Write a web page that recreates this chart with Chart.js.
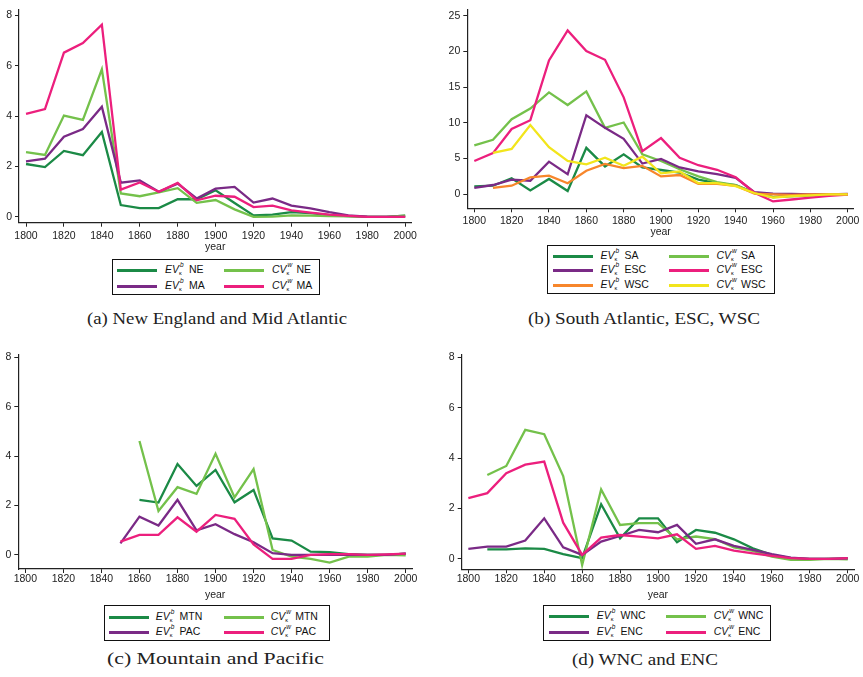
<!DOCTYPE html>
<html>
<head>
<meta charset="utf-8">
<script src="https://cdn.jsdelivr.net/npm/chart.js@4"></script>
<style>
  html, body { margin: 0; padding: 0; background: #fff; }
  #page { position: relative; width: 863px; height: 677px; overflow: hidden; background: #fff; }
  canvas { position: absolute; }
  .legend { position: absolute; border: 1.3px solid #111; background: #fff; box-sizing: border-box; }
  .item { position: absolute; height: 12px; font-family: "Liberation Sans", Arial, sans-serif; font-size: 10.5px; color: #111; white-space: nowrap; }
  .swatch { position: absolute; top: 5px; width: 40px; height: 2.5px; }
  .lbl { position: absolute; top: -1px; line-height: 12px; }
  .lbl i { font-style: italic; }
  .ss { display: inline-block; position: relative; width: 7px; height: 8px; }
  .ss .sp { position: absolute; left: 1px; top: -4px; font-size: 6.5px; font-style: italic; line-height: 8px; }
  .ss .sb { position: absolute; left: 0px; top: 5px; font-size: 5.5px; line-height: 6px; }
  .caption { position: absolute; font-family: "Liberation Serif", "DejaVu Serif", serif; font-size: 16px; color: #222; white-space: nowrap; transform-origin: 0 50%; line-height: 18px; }
</style>
</head>
<body>
<div id="page"></div>
<script>
// Decades on the x axis
const years = [1800,1810,1820,1830,1840,1850,1860,1870,1880,1890,1900,1910,1920,1930,1940,1950,1960,1970,1980,1990,2000];
const xTicks = [1800,1820,1840,1860,1880,1900,1920,1940,1960,1980,2000];

// (a) New England and Mid Atlantic
const evNE = [2.10,1.98,2.62,2.45,3.37,0.47,0.35,0.35,0.70,0.70,1.06,0.55,0.06,0.09,0.19,0.15,0.07,0.03,0.00,0.00,0.05];
const cvNE = [2.57,2.46,4.02,3.85,5.86,0.93,0.82,0.97,1.14,0.56,0.67,0.30,0.00,0.01,0.06,0.05,0.03,0.02,0.00,0.00,0.05];
const evMA = [2.20,2.31,3.18,3.49,4.37,1.36,1.45,1.00,1.32,0.73,1.12,1.19,0.57,0.73,0.45,0.34,0.19,0.06,0.01,0.00,0.00];
const cvMA = [4.09,4.28,6.52,6.90,7.63,1.08,1.37,1.00,1.35,0.66,0.84,0.80,0.39,0.45,0.26,0.17,0.09,0.04,0.00,0.00,0.00];
const yTicksA = [0,2,4,6,8];

// (b) South Atlantic, ESC, WSC
const evSA  = [1.10,1.20,2.24,0.55,2.15,0.46,6.50,3.90,5.60,3.75,3.40,3.05,2.05,1.55,1.30,0.20,-0.40,-0.20,-0.10,0.00,0.00];
const cvSA  = [6.85,7.63,10.50,12.00,14.26,12.50,14.40,9.30,10.05,5.60,4.66,3.50,2.50,1.70,1.30,0.20,-0.40,-0.30,-0.20,0.00,0.00];
const evESC = [0.90,1.30,2.05,1.90,4.57,2.80,11.06,9.30,7.77,4.30,4.94,3.75,3.20,2.83,2.30,0.30,0.10,0.05,0.00,0.00,0.05];
const cvESC = [4.66,5.76,9.14,10.37,18.74,22.94,20.06,18.83,13.57,6.03,7.86,5.12,4.07,3.43,2.38,0.23,-1.00,-0.73,-0.46,-0.23,-0.05];
const evWSC = [null,0.90,1.20,2.38,2.60,1.55,3.30,4.25,3.66,3.98,2.50,2.70,1.46,1.46,1.19,0.10,0.00,-0.10,0.00,0.00,0.00];
const cvWSC = [null,5.80,6.35,9.70,6.58,4.66,4.20,5.12,3.98,5.26,2.93,3.20,1.55,1.55,1.14,0.18,-0.46,-0.27,-0.14,0.00,0.00];
const yTicksB = [0,5,10,15,20,25];

// (c) Mountain and Pacific
const evMTN = [null,null,null,null,null,null,2.23,2.12,3.68,2.79,3.44,2.13,2.63,0.67,0.58,0.13,0.11,0.03,0.00,0.00,0.05];
const cvMTN = [null,null,null,null,null,null,4.61,1.78,2.74,2.47,4.09,2.33,3.47,0.20,-0.07,-0.16,-0.31,-0.07,-0.07,0.00,-0.02];
const evPAC = [null,null,null,null,null,0.47,1.55,1.19,2.23,0.99,1.24,0.84,0.51,0.07,0.00,0.00,0.00,0.00,0.00,0.00,0.05];
const cvPAC = [null,null,null,null,null,0.54,0.81,0.81,1.52,0.94,1.62,1.46,0.42,-0.16,-0.16,0.00,0.03,0.03,0.00,0.02,0.05];
const yTicksC = [0,2,4,6,8];

// (d) WNC and ENC
const evWNC = [null,0.38,0.38,0.42,0.40,0.19,0.03,2.17,0.82,1.61,1.61,0.66,1.15,1.04,0.78,0.42,0.16,0.03,0.00,0.00,0.02];
const cvWNC = [null,3.33,3.69,5.12,4.95,3.29,-0.24,2.76,1.35,1.42,1.42,0.78,0.89,0.79,0.46,0.32,0.09,-0.04,-0.04,0.00,-0.02];
const evENC = [0.40,0.49,0.49,0.73,1.61,0.46,0.16,0.69,0.91,1.15,1.06,1.35,0.60,0.78,0.52,0.36,0.19,0.05,0.00,0.00,0.02];
const cvENC = [2.41,2.61,3.40,3.74,3.86,1.44,0.16,0.85,0.95,0.89,0.82,0.98,0.40,0.52,0.33,0.22,0.12,0.03,0.00,0.00,0.03];
const yTicksD = [0,2,4,6,8];

// Series colours
const C = {
  dkgreen: '#1b8a46',
  ltgreen: '#74c14b',
  purple:  '#7a2a86',
  pink:    '#ec1f7d',
  orange:  '#f7862b',
  yellow:  '#f2e51c'
};

const page = document.getElementById('page');
const tickFont = { family: '"Liberation Sans", Arial, sans-serif', size: 10.5, lineHeight: 1.2 };

function series(kind, region, values, color) {
  return { kind, region, values, color };
}

function makePanel(p) {
  const canvas = document.createElement('canvas');
  canvas.width = p.w; canvas.height = p.h;
  canvas.style.left = p.left + 'px'; canvas.style.top = p.top + 'px';
  canvas.style.width = p.w + 'px'; canvas.style.height = p.h + 'px';
  page.appendChild(canvas);

  const n = p.series.length;
  const datasets = p.series.map((s, i) => ({
    label: s.kind + ' ' + s.region,
    data: years.map((yr, k) => ({ x: yr, y: s.values[k] })),
    borderColor: s.color,
    backgroundColor: s.color,
    borderWidth: 2.3,
    pointRadius: 0,
    tension: 0,
    fill: false,
    spanGaps: false,
    order: n - i
  }));

  const axisLine = { display: true, color: '#222', width: 1.2 };
  const gridTicks = { display: true, drawOnChartArea: false, drawTicks: true, tickLength: 4, color: '#222', lineWidth: 1 };

  new Chart(canvas, {
    type: 'line',
    data: { datasets },
    options: {
      responsive: false,
      animation: false,
      devicePixelRatio: 1,
      layout: { padding: { top: p.padTop, right: p.padRight, left: 0, bottom: 0 } },
      plugins: { legend: { display: false }, tooltip: { enabled: false } },
      scales: {
        x: {
          type: 'linear',
          min: p.xMin, max: p.xMax,
          afterBuildTicks: s => { s.ticks = xTicks.map(v => ({ value: v })); },
          afterFit: s => { s.height = p.xAxisH; },
          grid: gridTicks,
          border: axisLine,
          ticks: { font: tickFont, color: '#222', padding: p.xTickPad, maxRotation: 0, autoSkip: false, callback: v => String(v) },
          title: { display: true, text: 'year', color: '#222', font: tickFont, padding: { top: 0, bottom: p.titlePad } }
        },
        y: {
          type: 'linear',
          min: p.yMin, max: p.yMax,
          afterBuildTicks: s => { s.ticks = p.yTicks.map(v => ({ value: v })); },
          afterFit: s => { s.width = p.yAxisW; },
          grid: gridTicks,
          border: axisLine,
          ticks: { font: tickFont, color: '#222', padding: 3, autoSkip: false, callback: v => String(v) }
        }
      }
    }
  });

  // Legend box: two columns, filled row by row
  const lg = p.legend;
  const box = document.createElement('div');
  box.className = 'legend';
  box.style.left = Math.round(lg.left) + 'px'; box.style.top = Math.round(lg.top) + 'px';
  box.style.width = Math.round(lg.w) + 'px'; box.style.height = Math.round(lg.h) + 'px';
  page.appendChild(box);
  p.series.forEach((s, i) => {
    const row = Math.floor(i / 2), col = i % 2;
    const item = document.createElement('div');
    item.className = 'item';
    item.style.left = Math.round(lg.colX[col]) + 'px';
    item.style.top = Math.round(lg.rowY[row] - 6) + 'px';
    const sup = s.kind === 'EV' ? 'b' : 'w';
    item.innerHTML =
      '<div class="swatch" style="background:' + s.color + '"></div>' +
      '<div class="lbl" style="left:' + lg.textDx + 'px"><i>' + s.kind + '</i>' +
      '<span class="ss"><span class="sp">' + sup + '</span><span class="sb">κ</span></span> ' + s.region + '</div>';
    box.appendChild(item);
  });

  // Caption under the panel
  const cap = document.createElement('div');
  cap.className = 'caption';
  cap.textContent = p.caption.text;
  page.appendChild(cap);
  const natural = cap.getBoundingClientRect().width;
  const sx = p.caption.width / natural;
  cap.style.transform = 'scaleX(' + sx + ')';
  cap.style.left = (p.caption.cx - p.caption.width / 2) + 'px';
  cap.style.top = (p.caption.cy - 9) + 'px';
}

makePanel({
  left: 0, top: 0, w: 420, h: 255,
  padTop: 5, padRight: 8, yAxisW: 19, xAxisH: 32.3, xTickPad: 3, titlePad: 2,
  xMin: 1796.3, xMax: 2003.3, yMin: -0.23, yMax: 8.24, yTicks: yTicksA,
  series: [
    series('EV', 'NE', evNE, C.dkgreen), series('CV', 'NE', cvNE, C.ltgreen),
    series('EV', 'MA', evMA, C.purple),  series('CV', 'MA', cvMA, C.pink)
  ],
  legend: { left: 111.7, top: 259.3, w: 208.3, h: 35.7, colX: [4, 111], rowY: [10, 25.7], textDx: 48 },
  caption: { text: '(a) New England and Mid Atlantic', cx: 216.5, cy: 318.5, width: 260 }
});

makePanel({
  left: 430, top: 0, w: 433, h: 243,
  padTop: 5, padRight: 9.1, yAxisW: 37.3, xAxisH: 34.7, xTickPad: 2.5, titlePad: 4.4,
  xMin: 1796.25, xMax: 2003.3, yMin: -1.96, yMax: 25.89, yTicks: yTicksB,
  series: [
    series('EV', 'SA', evSA, C.dkgreen),   series('CV', 'SA', cvSA, C.ltgreen),
    series('EV', 'ESC', evESC, C.purple),  series('CV', 'ESC', cvESC, C.pink),
    series('EV', 'WSC', evWSC, C.orange),  series('CV', 'WSC', cvWSC, C.yellow)
  ],
  legend: { left: 547.3, top: 245, w: 227.7, h: 49.3, colX: [5, 121], rowY: [9.5, 24.3, 39.3], textDx: 47.5 },
  caption: { text: '(b) South Atlantic, ESC, WSC', cx: 644, cy: 319.3, width: 232 }
});

makePanel({
  left: 0, top: 340, w: 420, h: 265,
  padTop: 15, padRight: 8, yAxisW: 18.3, xAxisH: 36, xTickPad: 0, titlePad: 3.7,
  xMin: 1796.3, xMax: 2003.3, yMin: -0.57, yMax: 8.09, yTicks: yTicksC,
  series: [
    series('EV', 'MTN', evMTN, C.dkgreen), series('CV', 'MTN', cvMTN, C.ltgreen),
    series('EV', 'PAC', evPAC, C.purple),  series('CV', 'PAC', cvPAC, C.pink)
  ],
  legend: { left: 104, top: 605, w: 226, h: 36, colX: [4.3, 119.3], rowY: [10.7, 26], textDx: 46.7 },
  caption: { text: '(c) Mountain and Pacific', cx: 215, cy: 659.3, width: 217 }
});

makePanel({
  left: 430, top: 340, w: 433, h: 265,
  padTop: 15, padRight: 9, yAxisW: 31.7, xAxisH: 35.7, xTickPad: 0, titlePad: 3.7,
  xMin: 1796.5, xMax: 2003.3, yMin: -0.41, yMax: 8.09, yTicks: yTicksD,
  series: [
    series('EV', 'WNC', evWNC, C.dkgreen), series('CV', 'WNC', cvWNC, C.ltgreen),
    series('EV', 'ENC', evENC, C.purple),  series('CV', 'ENC', cvENC, C.pink)
  ],
  legend: { left: 543.3, top: 605, w: 228.4, h: 36, colX: [5, 121.7], rowY: [10, 25.7], textDx: 47.7 },
  caption: { text: '(d) WNC and ENC', cx: 644.5, cy: 660, width: 146 }
});
</script>
</body>
</html>
